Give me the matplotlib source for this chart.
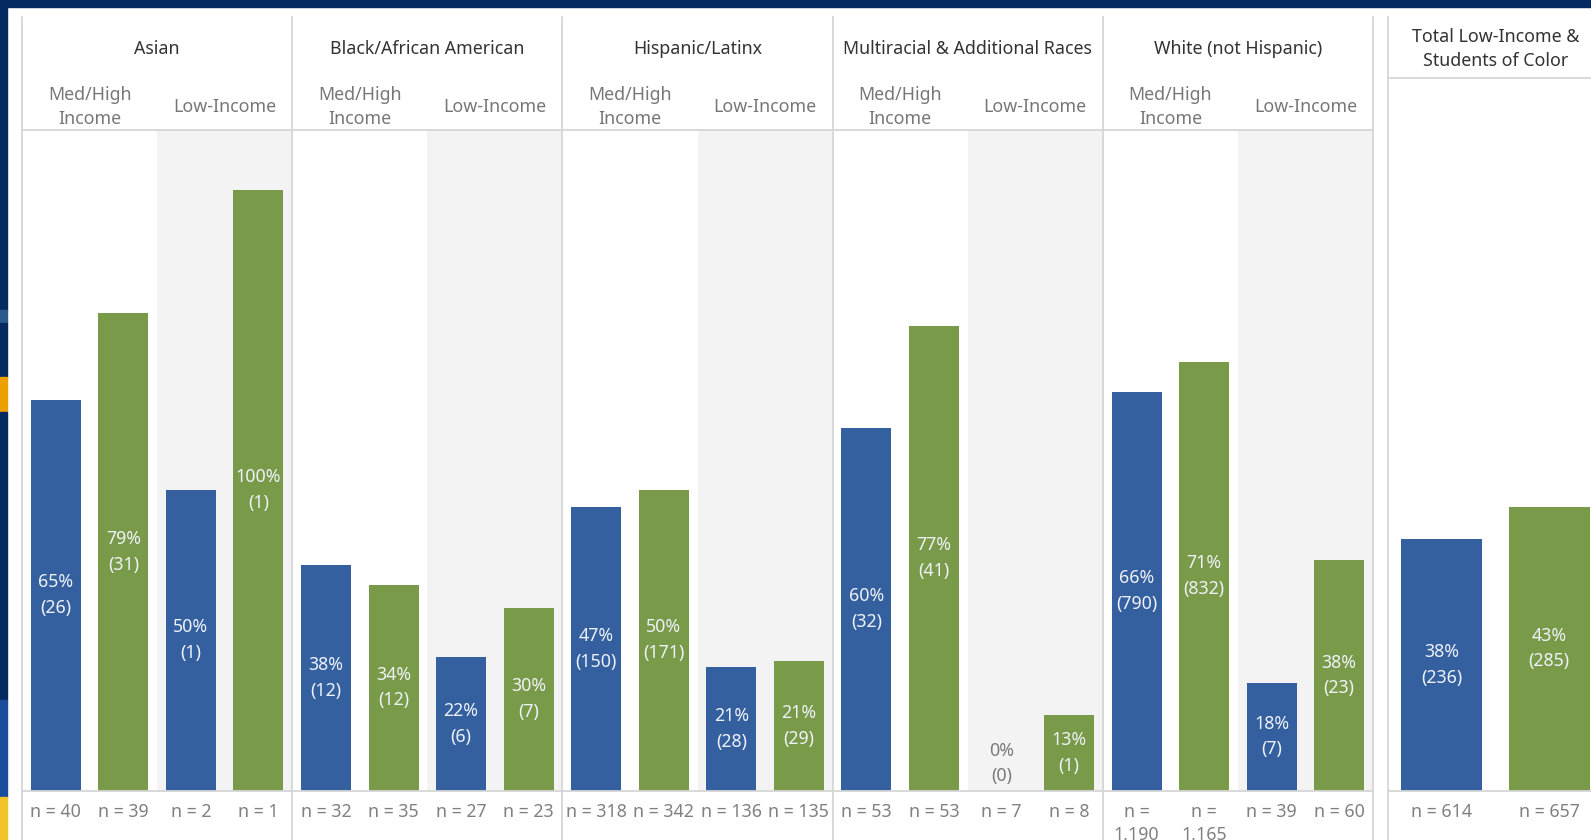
import numpy as np
import matplotlib
matplotlib.use('Agg')
from matplotlib import pyplot as plt
from matplotlib import transforms
from matplotlib.patches import Rectangle

# data: counts and group sizes for the two cohorts (blue / green)
races = ['Asian', 'Black/African American', 'Hispanic/Latinx',
         'Multiracial & Additional Races', 'White (not Hispanic)']
income_groups = ['Med/High\nIncome', 'Low-Income']
blue_counts = [26, 1, 12, 6, 150, 28, 32, 0, 790, 7]
blue_n = [40, 2, 32, 27, 318, 136, 53, 7, 1190, 39]
green_counts = [31, 1, 12, 7, 171, 29, 41, 1, 832, 23]
green_n = [39, 1, 35, 23, 342, 135, 53, 8, 1165, 60]
total_title = 'Total Low-Income &\nStudents of Color'
total_counts = [236, 285]
total_n = [614, 657]

W, H = 1591, 840
NAVY = '#052a62'
BLUE = '#3560a0'
GREEN = '#799a48'
GRID = '#d6d6d6'
SHADE = '#f3f3f3'
FS = 12.8

plt.rcParams['font.family'] = ['Noto Sans', 'DejaVu Sans']


def fx(px):
    return px / W


def fy(py):
    return 1 - py / H


def pct_label(count, n):
    return f'{int(count / n * 100 + 0.5)}%\n({count})'


def n_label(n):
    if n >= 1000:
        return f'n =\n{n:,}'
    return f'n = {n}'


def draw_bars(ax, x, counts, ns, color, width):
    rates = np.array(counts) / np.array(ns)
    ax.bar(x, rates, width=width, color=color, zorder=2)
    blend = transforms.blended_transform_factory(ax.transData, ax.figure.transFigure)
    for xi, r, c, n in zip(x, rates, counts, ns):
        txt_color = '#eef2f8' if r > 0 else '#7a7a7a'
        ax.text(xi, max(r / 2, 0.045), pct_label(c, n), ha='center', va='center',
                color=txt_color, fontsize=FS, linespacing=1.55, zorder=3)
        ax.text(xi, fy(803), n_label(n), transform=blend, ha='center', va='top',
                color='#808080', fontsize=FS, linespacing=1.35)


def style_axes(ax, ymax):
    ax.set_ylim(0, ymax)
    ax.set_xticks([])
    ax.set_yticks([])
    ax.patch.set_alpha(0)
    for side in ['left', 'right']:
        ax.spines[side].set_visible(False)
    for side in ['top', 'bottom']:
        ax.spines[side].set_color(GRID)
        ax.spines[side].set_linewidth(1.3)


fig = plt.figure(figsize=(W / 100, H / 100), dpi=100)

# slide background pieces around the embedded chart
fig.add_artist(Rectangle((0, fy(7)), 1, 7 / H, transform=fig.transFigure, color=NAVY, zorder=0))
strip = [(0, 310, NAVY), (310, 323, '#2c5a8c'), (323, 377, NAVY), (377, 412, '#eca000'),
         (412, 700, NAVY), (700, 797, '#1a4c9c'), (797, 840, '#f1c42c')]
for y0, y1, c in strip:
    fig.add_artist(Rectangle((0, fy(y1)), fx(7), (y1 - y0) / H, transform=fig.transFigure,
                             color=c, zorder=0))

# main panel
main_left, main_right, main_top, base = 22, 1373, 130, 790.5
ax = fig.add_axes([fx(main_left), fy(base), fx(main_right - main_left), (base - main_top) / H])
ax.set_xlim(0, 10)
style_axes(ax, 1.0996)
for i in range(1, 10, 2):
    ax.axvspan(i, i + 1, color=SHADE, zorder=0, lw=0)

cols = np.arange(10)
draw_bars(ax, cols + 0.25, blue_counts, blue_n, BLUE, 0.37)
draw_bars(ax, cols + 0.75, green_counts, green_n, GREEN, 0.37)

blend = transforms.blended_transform_factory(ax.transData, fig.transFigure)
for k in range(0, 11, 2):
    ax.plot([k, k], [fy(17), 0], transform=blend, color=GRID, lw=1.3, clip_on=False)
for i, race in enumerate(races):
    ax.text(2 * i + 1, fy(49.5), race, transform=blend, ha='center', va='center',
            color='#333333', fontsize=FS)
    for j, grp in enumerate(income_groups):
        ax.text(2 * i + j + 0.5, fy(107), grp, transform=blend, ha='center', va='center',
                color='#777777', fontsize=FS, linespacing=1.5)

# total panel (own scale, runs past the right edge)
tot_left, tot_top = 1388, 78
ax_t = fig.add_axes([fx(tot_left), fy(base), fx(215), (base - tot_top) / H])
ax_t.set_xlim(0, 2)
style_axes(ax_t, 1.0886)
draw_bars(ax_t, np.array([0.5, 1.5]), total_counts, total_n, [BLUE, GREEN], 0.755)
blend_t = transforms.blended_transform_factory(ax_t.transData, fig.transFigure)
ax_t.plot([0, 0], [fy(17), 0], transform=blend_t, color=GRID, lw=1.3, clip_on=False)
ax_t.text(1, fy(49), total_title, transform=blend_t, ha='center', va='center',
          color='#333333', fontsize=FS, linespacing=1.5)

fig.savefig('out.png', dpi=100)
